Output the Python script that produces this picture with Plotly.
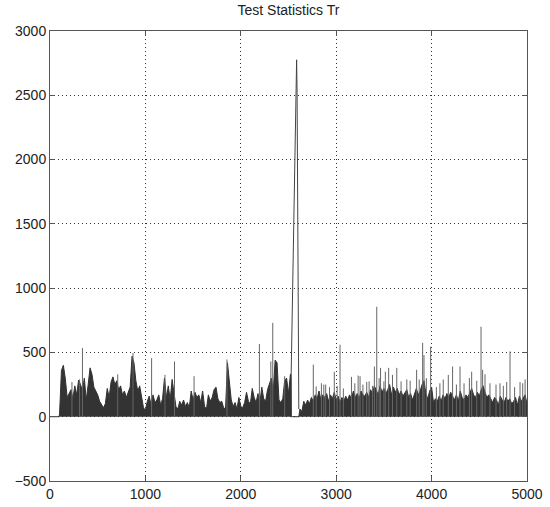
import plotly.graph_objects as go

# ---- data ----
# dark body envelope of Tr, sampled every 20 samples
t_start = 100
t_step = 20
tr_body = [
    20, 360, 400, 300, 150, 185, 210, 140, 240, 170,      # 100-280
    285, 250, 200, 300, 130, 250, 380, 330, 230, 200,     # 300-480
    170, 120, 90, 70, 100, 220, 150, 270, 310, 250,       # 500-680
    280, 210, 240, 170, 200, 150, 190, 230, 470, 420,     # 700-880
    280, 200, 240, 160, 70, 50, 120, 160, 90, 170,        # 900-1080
    110, 130, 170, 90, 140, 300, 150, 240, 130, 290,      # 1100-1280
    200, 80, 60, 120, 90, 130, 80, 110, 70, 200,          # 1300-1480
    130, 190, 150, 170, 110, 200, 80, 60, 170, 120,       # 1500-1680
    150, 210, 230, 140, 110, 120, 70, 60, 420, 260,       # 1700-1880
    130, 80, 110, 60, 150, 80, 70, 110, 190, 120,         # 1900-2080
    100, 220, 150, 110, 180, 110, 230, 140, 120, 210,     # 2100-2280
    250, 300, 200, 440, 420, 130, 110, 140, 280, 300,     # 2300-2480
    180, 330,                                             # 2500-2520
]
# main peak (irregular samples), drawn as an open line
peak_t = [2528, 2534, 2540, 2548, 2560, 2570, 2577, 2585, 2590, 2597, 2603, 2608]
peak_v = [330, 600, 820, 1376, 1843, 2130, 2440, 2776, 2520, 1320, 430, 60]
# body after the peak, every 20 samples from 2620
t2_start = 2620
tr_body2 = [
    60, 40, 120, 90, 130, 100, 150, 120, 170, 140,        # 2620-2800
    200, 130, 170, 150, 180, 120, 170, 140, 190, 130,     # 2820-3000
    160, 110, 150, 120, 160, 130, 170, 140, 200, 150,     # 3020-3200
    180, 140, 200, 170, 160, 190, 150, 210, 180, 240,     # 3220-3400
    200, 170, 240, 190, 220, 180, 210, 250, 170, 230,     # 3420-3600
    190, 220, 170, 200, 160, 190, 210, 150, 180, 130,     # 3620-3800
    170, 220, 170, 200, 250, 280, 180, 140, 200, 230,     # 3820-4000
    110, 140, 120, 160, 120, 170, 140, 180, 150, 190,     # 4020-4200
    160, 130, 170, 120, 200, 150, 130, 170, 150, 190,     # 4220-4400
    220, 170, 150, 190, 160, 210, 240, 190, 150, 170,     # 4420-4600
    140, 110, 150, 130, 90, 160, 130, 110, 150, 120,      # 4620-4800
    140, 100, 120, 150, 90, 160, 120, 140, 170, 100,      # 4820-5000
]
# thin isolated spikes: sample index and height
spike_t = [230, 310, 340, 710, 870, 1065, 1205, 1305, 1510, 1855, 2195, 2315, 2335, 2460,
           2760, 2790, 2845, 2870, 2890, 2930, 2980, 3010, 3040, 3075, 3160, 3195, 3230,
           3250, 3280, 3320, 3345, 3380, 3400, 3425, 3450, 3465, 3500, 3515, 3550, 3590,
           3635, 3680, 3740, 3775, 3843, 3870, 3906, 3920, 3945, 3990, 4050, 4087, 4122,
           4175, 4220, 4260, 4298, 4340, 4396, 4420, 4473, 4518, 4535, 4560, 4612, 4675,
           4717, 4752, 4787, 4822, 4870, 4927, 4955, 4980]
spike_v = [270, 290, 534, 330, 495, 455, 325, 430, 315, 445, 565, 430, 730, 315,
           405, 235, 260, 250, 250, 230, 350, 240, 560, 220, 310, 260, 320,
           315, 250, 270, 275, 240, 390, 855, 300, 380, 275, 350, 380, 325,
           380, 275, 290, 280, 365, 290, 575, 480, 300, 545, 230, 260, 290,
           325, 390, 250, 390, 260, 300, 350, 280, 700, 365, 330, 260, 250,
           260, 240, 270, 508, 230, 270, 260, 290]

x_ticks = [0, 1000, 2000, 3000, 4000, 5000]
y_ticks = [-500, 0, 500, 1000, 1500, 2000, 2500, 3000]

# ---- assemble series ----
xs = [0, t_start - 5]
ys = [0, 0]
xs += [t_start + i * t_step for i in range(len(tr_body))]
ys += tr_body
xs += [peak_t[0], peak_t[0] + 2, peak_t[-1]]
ys += [peak_v[0], 0, 0]
xs += [t2_start + i * t_step for i in range(len(tr_body2))]
ys += tr_body2

sx, sy = [], []
for a, b in zip(spike_t, spike_v):
    sx += [a, a, None]
    sy += [0, b, None]

fig = go.Figure()
fig.add_trace(go.Scatter(x=xs, y=ys, mode="lines", fill="tozeroy",
                         fillcolor="#333333", line=dict(color="#333333", width=1),
                         showlegend=False, hoverinfo="skip"))
fig.add_trace(go.Scatter(x=peak_t, y=peak_v, mode="lines",
                         line=dict(color="#444444", width=1),
                         showlegend=False, hoverinfo="skip"))
fig.add_trace(go.Scatter(x=sx, y=sy, mode="lines",
                         line=dict(color="#666666", width=1),
                         showlegend=False, hoverinfo="skip"))

font = dict(family="Liberation Sans, Arial", size=14, color="#222222")
axis_common = dict(showline=True, linecolor="#555555", linewidth=1, mirror="allticks",
                   ticks="inside", ticklen=5, tickcolor="#555555",
                   showgrid=True, gridcolor="#333333", griddash="1px,3px", gridwidth=1,
                   zeroline=False, tickfont=font, automargin=False)

fig.update_xaxes(range=[0, 5000], tickvals=x_ticks, **axis_common)
fig.update_yaxes(range=[-500, 3000], tickvals=y_ticks, **axis_common)

fig.update_layout(
    width=550, height=507,
    margin=dict(l=50, r=23, t=31, b=26),
    paper_bgcolor="white", plot_bgcolor="white",
    title=dict(text="Test Statistics Tr", x=0.5, xref="paper", xanchor="center",
               y=1 - 10 / 507, yanchor="middle",
               font=dict(family="Liberation Sans, Arial", size=14, color="#222222")),
)

fig.write_html("out.html", config={"displayModeBar": False},
               post_script="document.body.style.margin='0';document.body.style.overflow='hidden';")
